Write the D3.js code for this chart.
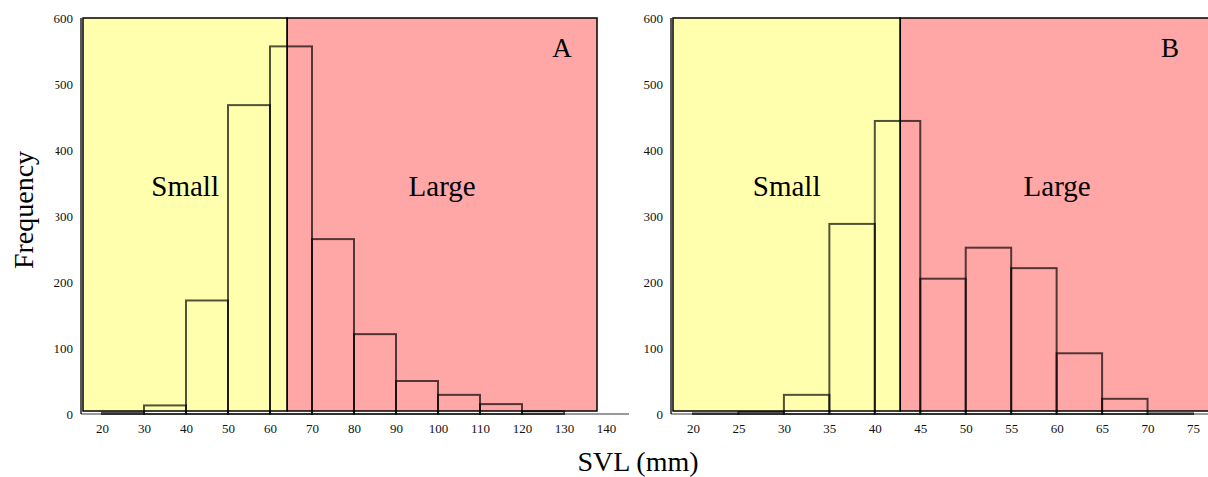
<!DOCTYPE html>
<html>
<head>
<meta charset="utf-8">
<script src="https://cdn.jsdelivr.net/npm/d3@7"></script>
<style>
    body { margin: 0; background: #fff; }
    text { font-family: "Liberation Serif", "Times New Roman", serif; }
</style>
</head>
<body>
<div id="chart"></div>
<script>

// ---- data ----
// panel A: SVL bins of 10 mm
let binsA = [20, 30, 40, 50, 60, 70, 80, 90, 100, 110, 120];
let countsA = [2, 13, 172, 468, 557, 265, 121, 50, 29, 15, 4];
let ticksA = [20, 30, 40, 50, 60, 70, 80, 90, 100, 110, 120, 130, 140];
let cutA = 64.1;

// panel B: SVL bins of 5 mm
let binsB = [20, 25, 30, 35, 40, 45, 50, 55, 60, 65, 70];
let countsB = [1, 3, 29, 288, 444, 205, 252, 221, 92, 23, 1];
let ticksB = [20, 25, 30, 35, 40, 45, 50, 55, 60, 65, 70, 75];
let cutB = 42.8;

let freqTicks = [0, 100, 200, 300, 400, 500, 600];
let groupLabels = ["Small", "Large"];


class HistPanel {

    constructor(svg, opts) {
        this.svg = svg;
        this.opts = opts;
        this.initVis();
    }

    initVis() {
        let vis = this;
        let o = vis.opts;

        vis.g = vis.svg.append("g");

        vis.x = d3.scaleLinear()
            .domain(o.domain)
            .range(o.xRange);

        vis.y = d3.scaleLinear()
            .domain([0, 600])
            .range([414, 18]);

        vis.updateVis();
    }

    updateVis() {
        let vis = this;
        let o = vis.opts;

        let top = vis.y(600);
        let boxBottom = vis.y(0) - 3;
        let boxLeft = o.axisX + 2;
        let cutX = vis.x(o.cut);

        // shaded regions (small / large)
        vis.g.append("rect")
            .attr("x", boxLeft)
            .attr("y", top)
            .attr("width", cutX - boxLeft)
            .attr("height", boxBottom - top)
            .attr("fill", "#ffffae")
            .attr("stroke", "#000")
            .attr("stroke-width", 1.5);

        vis.g.append("rect")
            .attr("x", cutX)
            .attr("y", top)
            .attr("width", o.boxRight - cutX)
            .attr("height", boxBottom - top)
            .attr("fill", "#ffa6a6")
            .attr("stroke", "#000")
            .attr("stroke-width", 1.5);

        // axes
        let xAxis = d3.axisBottom(vis.x)
            .tickValues(o.ticks)
            .tickSize(0)
            .tickPadding(10)
            .tickFormat(d3.format("d"));

        let yAxis = d3.axisLeft(vis.y)
            .tickValues(freqTicks)
            .tickSize(0)
            .tickPadding(8)
            .tickFormat(d3.format("d"));

        let gx = vis.g.append("g")
            .attr("class", "axis x-axis")
            .attr("transform", "translate(0," + vis.y(0) + ")")
            .call(xAxis);
        gx.select(".domain").remove();
        gx.append("line")
            .attr("x1", o.axisX).attr("x2", o.axisEnd)
            .attr("y1", 0).attr("y2", 0)
            .attr("stroke", "#777").attr("stroke-width", 1.5);

        let gy = vis.g.append("g")
            .attr("class", "axis y-axis")
            .attr("transform", "translate(" + o.axisX + ",0)")
            .call(yAxis);
        gy.select(".domain").remove();
        gy.append("line")
            .attr("x1", 0).attr("x2", 0)
            .attr("y1", top).attr("y2", vis.y(0))
            .attr("stroke", "#222").attr("stroke-width", 1.5);

        vis.g.selectAll(".axis text")
            .style("font-family", "'Liberation Serif', serif")
            .style("font-size", "13px")
            .attr("fill", "#111");

        // histogram bars
        let step = o.bins[1] - o.bins[0];
        vis.g.selectAll(".bar")
            .data(o.bins.map((b, i) => ({start: b, count: o.counts[i]})))
            .enter().append("rect")
            .attr("class", "bar")
            .attr("x", d => vis.x(d.start))
            .attr("width", d => vis.x(d.start + step) - vis.x(d.start))
            .attr("y", d => vis.y(d.count))
            .attr("height", d => vis.y(0) - vis.y(d.count))
            .attr("fill", "none")
            .attr("stroke", "rgba(0,0,0,0.68)")
            .attr("stroke-width", 2);

        // labels inside plot
        let midY = 196;
        vis.g.append("text")
            .attr("x", (boxLeft + cutX) / 2 + o.labelShift[0])
            .attr("y", midY)
            .attr("text-anchor", "middle")
            .attr("font-size", 29)
            .text(groupLabels[0]);

        vis.g.append("text")
            .attr("x", (cutX + o.boxRight) / 2 + o.labelShift[1])
            .attr("y", midY)
            .attr("text-anchor", "middle")
            .attr("font-size", 29)
            .text(groupLabels[1]);

        vis.g.append("text")
            .attr("x", o.letterX)
            .attr("y", 57)
            .attr("text-anchor", "middle")
            .attr("font-size", 27)
            .text(o.letter);
    }
}


let width = 1208, height = 477;

let svg = d3.select("#chart").append("svg")
    .attr("width", width)
    .attr("height", height);

let panelA = new HistPanel(svg, {
    bins: binsA, counts: countsA, ticks: ticksA, cut: cutA,
    domain: [20, 140], xRange: [102, 606],
    axisX: 81, axisEnd: 629, boxRight: 597,
    letter: "A", letterX: 562, labelShift: [0, 0]
});

let panelB = new HistPanel(svg, {
    bins: binsB, counts: countsB, ticks: ticksB, cut: cutB,
    domain: [20, 75], xRange: [693, 1193],
    axisX: 671, axisEnd: 1210, boxRight: 1214,
    letter: "B", letterX: 1170, labelShift: [0, 0]
});

// white patch behind the y title (it hides part of panel A's tick labels)
svg.append("rect")
    .attr("x", 0).attr("y", 76)
    .attr("width", 55.5).attr("height", 198)
    .attr("fill", "#fff");

svg.append("text")
    .attr("transform", "translate(33,210) rotate(-90)")
    .attr("text-anchor", "middle")
    .attr("font-size", 28)
    .text("Frequency");

svg.append("text")
    .attr("x", 638)
    .attr("y", 471)
    .attr("text-anchor", "middle")
    .attr("font-size", 28)
    .text("SVL (mm)");

</script>
</body>
</html>
